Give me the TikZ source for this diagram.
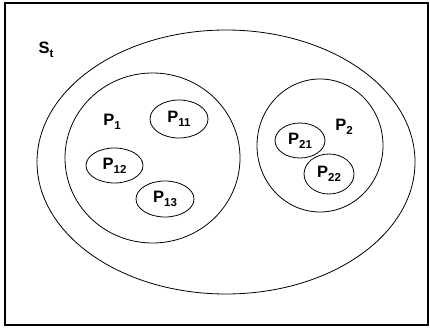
\documentclass[tikz,border=0pt]{standalone}
\usepackage{fontspec}
\setmainfont{Liberation Sans}
\usetikzlibrary{shapes.geometric}
\newcommand{\psubx}[1]{\raisebox{-0.45ex}{\fontsize{11.5}{12}\selectfont #1}}
\begin{document}
\begin{tikzpicture}[x=1pt,y=-1pt,
  set/.style={draw, ellipse, line width=0.8pt, inner sep=0pt},
  lab/.style={font=\bfseries\fontsize{16.5}{18}\selectfont, inner sep=0pt}]
\useasboundingbox (0,0) rectangle (430,328);
\node[draw, line width=2pt, minimum width=423pt, minimum height=322pt, inner sep=0pt] (frame) at (216.5,164) {};
\node[lab] (St) at (46,50) {S\psubx{t}};
\node[set, minimum width=378pt, minimum height=264pt] (S) at (226,162) {};
\node[set, minimum width=175pt, minimum height=170pt] (P1) at (152.5,158) {};
\node[set, minimum width=126pt, minimum height=133pt] (P2) at (320,145.5) {};
\node[lab] (P1l) at (112,122) {P\psubx{1}};
\node[lab] (P2l) at (344,127) {P\psubx{2}};
\node[set, minimum width=58pt, minimum height=38pt, lab] (P11) at (179,119) {P\psubx{11}};
\node[set, minimum width=57pt, minimum height=35pt, lab] (P12) at (114.5,165.5) {P\psubx{12}};
\node[set, minimum width=58pt, minimum height=36pt, lab] (P13) at (165,199) {P\psubx{13}};
\node[set, minimum width=50pt, minimum height=35pt, lab] (P21) at (300,140.5) {P\psubx{21}};
\node[set, minimum width=50pt, minimum height=40pt, lab] (P22) at (329,174) {P\psubx{22}};
\end{tikzpicture}
\end{document}
